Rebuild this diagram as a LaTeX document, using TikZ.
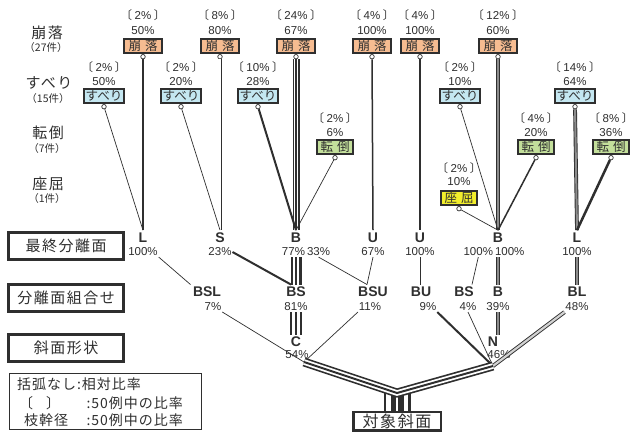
\documentclass[tikz,border=0pt]{standalone}
\usepackage{fontspec}
\setmainfont{Liberation Sans}
\newfontfamily\jp{Noto Sans CJK JP}
\newfontfamily\jpwide[LetterSpace=10]{Noto Sans CJK JP}
\newfontfamily\jpleg[LetterSpace=7]{Noto Sans CJK JP}
\usetikzlibrary{calc}
\definecolor{ink}{HTML}{2F2F2F}
\definecolor{fallfill}{HTML}{F6BC91}
\definecolor{slidefill}{HTML}{C4E7F1}
\definecolor{topplefill}{HTML}{C3DF9B}
\definecolor{bucklefill}{HTML}{F2EE2C}
\definecolor{core}{HTML}{8C8C8C}
\newcommand{\brk}[1]{{\jp 〔}\hspace{2.5pt}#1\hspace{2.5pt}{\jp 〕}}
\begin{document}
\begin{tikzpicture}[x=1pt,y=-1pt,
  every node/.style={text=ink},
  mode/.style={draw=ink, line width=1.9pt, minimum height=14.5pt, inner sep=0pt, font=\jp\fontsize{12.5}{12.5}\selectfont},
  fallbox/.style={mode, fill=fallfill, minimum width=38pt},
  slidebox/.style={mode, fill=slidefill, minimum width=40pt},
  topplebox/.style={mode, fill=topplefill, minimum width=36pt},
  bucklebox/.style={mode, fill=bucklefill, minimum width=36pt},
  knob/.style={circle, draw=ink, fill=white, line width=0.7pt, inner sep=0pt, minimum size=4.5pt},
  pct/.style={font=\fontsize{11.5}{11.5}\selectfont, inner sep=0pt, outer sep=1pt},
  face/.style={font=\bfseries\fontsize{14}{14}\selectfont, inner sep=0pt, outer sep=2.5pt},
  hdr/.style={draw=ink, line width=3pt, fill=white, minimum width=115pt, minimum height=27pt, inner sep=0pt, font=\jpwide\fontsize{15}{15}\selectfont},
  rootbox/.style={draw=ink, line width=2.5pt, fill=white, minimum width=87.5pt, minimum height=18.5pt, inner sep=0pt, font=\jpwide\fontsize{16}{16}\selectfont},
  lbl/.style={font=\jpwide\fontsize{15}{15}\selectfont, inner sep=0pt},
  cnt/.style={font=\jp\fontsize{10.5}{10.5}\selectfont, inner sep=0pt},
  legtxt/.style={font=\jpleg\fontsize{14}{14}\selectfont, inner sep=0pt},
  w07/.style={draw=ink, line width=0.7pt},
  w15/.style={draw=ink, line width=1.5pt},
  w20/.style={draw=ink, line width=2pt},
  w25/.style={draw=ink, line width=2.5pt},
  gdbl/.style={draw=ink, line width=0.9pt, double=core, double distance=#1},
  wdbl/.style={draw=ink, line width=0.9pt, double=white, double distance=#1},
  tri/.style={draw=ink, line width=#1, postaction={draw=white, line width=0.62*#1}, postaction={draw=ink, line width=0.22*#1}},
  stub/.style={draw=ink, line width=27pt, postaction={draw=white, line width=22pt}, postaction={draw=ink, line width=13pt}, postaction={draw=white, line width=2pt}},
]
\useasboundingbox (0,0) rectangle (632,436);
\fill[white] (0,0) rectangle (632,436);

% row titles on the left
\node[lbl] (m1) at (47,33) {崩落};
\node[cnt] (m1c) at (46,48) {（27件）};
\node[lbl] (m2) at (49,83) {すべり};
\node[cnt] (m2c) at (48,99) {（15件）};
\node[lbl] (m3) at (48,133) {転倒};
\node[cnt] (m3c) at (47,149) {（7件）};
\node[lbl] (m4) at (48,184) {座屈};
\node[cnt] (m4c) at (47,199) {（1件）};

% failure modes with their shares
\foreach \nn/\xx/\bb/\pc in {f1/143/2/50,f2/220/8/80,f3/296/24/67,f4/372/4/100,f5/420/4/100,f6/498/12/60}{
  \node[fallbox] (\nn) at (\xx,46) {崩\hspace{4pt}落};
  \node[knob] (\nn k) at ($(\nn.south)+(0,2.5)$) {};
  \node[pct] (\nn b) at (\xx,15) {\brk{\bb\%}};
  \node[pct] (\nn p) at (\xx,31) {\pc\%};
}
\foreach \nn/\xx/\bb/\pc in {s1/104/2/50,s2/181/2/20,s3/258/10/28,s4/460/2/10,s5/575/14/64}{
  \node[slidebox] (\nn) at (\xx,96) {すべり};
  \node[knob] (\nn k) at ($(\nn.south)+(0,2.5)$) {};
  \node[pct] (\nn b) at (\xx,67) {\brk{\bb\%}};
  \node[pct] (\nn p) at (\xx,82) {\pc\%};
}
\foreach \nn/\xx/\bb/\pc in {t1/335/2/6,t2/536/4/20,t3/611/8/36}{
  \node[topplebox] (\nn) at (\xx,147) {転\hspace{4pt}倒};
  \node[knob] (\nn k) at ($(\nn.south)+(0,2.5)$) {};
  \node[pct] (\nn b) at (\xx,118) {\brk{\bb\%}};
  \node[pct] (\nn p) at (\xx,133) {\pc\%};
}
\node[bucklebox] (b1) at (459,198) {座\hspace{4pt}屈};
\node[knob] (b1k) at ($(b1.south)+(0,2.5)$) {};
\node[pct] (b1b) at (459,168) {\brk{2\%}};
\node[pct] (b1p) at (459,182) {10\%};

% level headers
\node[hdr] (h1) at (66,246) {最終分離面};
\node[hdr] (h2) at (66,298) {分離面組合せ};
\node[hdr] (h3) at (66,348) {斜面形状};

% final separation planes
\node[face] (sL1) at (143,237.5) {L};
\node[face] (sS)  at (220,237.5) {S};
\node[face] (sB1) at (296,237.5) {B};
\node[face] (sU1) at (373,237.5) {U};
\node[face] (sU2) at (420,237.5) {U};
\node[face] (sB2) at (498,237.5) {B};
\node[face] (sL2) at (577,237.5) {L};
\node[pct] (pL1) at (143,252) {100\%};
\node[pct] (pS)  at (220,252) {23\%};
\node[pct, anchor=east] (pB1a) at (306,252) {77\%};
\node[pct, anchor=west] (pB1b) at (306,252) {33\%};
\node[pct] (pU1) at (373,252) {67\%};
\node[pct] (pU2) at (420,252) {100\%};
\node[pct, anchor=east] (pB2a) at (494,252) {100\%};
\node[pct, anchor=west] (pB2b) at (494,252) {100\%};
\node[pct] (pL2) at (577,252) {100\%};

% combinations of separation planes
\node[face] (cBSL) at (207,292) {BSL};
\node[face] (cBS1) at (296,292) {BS};
\node[face] (cBSU) at (373,292) {BSU};
\node[face] (cBU)  at (421,292) {BU};
\node[face] (cBS2) at (464,292) {BS};
\node[face] (cB)   at (498,292) {B};
\node[face] (cBL)  at (577,292) {BL};
\node[pct] (qBSL) at (213,307) {7\%};
\node[pct] (qBS1) at (296,307) {81\%};
\node[pct] (qBSU) at (370,307) {11\%};
\node[pct] (qBU)  at (428,307) {9\%};
\node[pct] (qBS2) at (468,307) {4\%};
\node[pct] (qB)   at (498,307) {39\%};
\node[pct] (qBL)  at (577,307) {48\%};

% slope shapes
\node[face] (sC) at (296,342) {C};
\node[face] (sN) at (493,342) {N};
\node[pct] (qC) at (297,355) {54\%};
\node[pct] (qN) at (499,355) {46\%};

\node[rootbox] (root) at (397,421) {対象斜面};
\coordinate (cj) at (304,362);
\coordinate (nj) at (493,366);
\coordinate (apex) at (397,393);

% branches: modes -> final separation planes
\draw[w15] (f1k) -- (sL1.north);
\draw[w07] (s1k) -- (sL1.north);
\draw[wdbl=1.2pt] (f2k) -- (sS.north);
\draw[w07] (s2k) -- (sS.north);
\draw[tri=7pt] (f3k) -- (sB1.north);
\draw[w20] (s3k) -- (sB1.north);
\draw[w07] (t1k) -- (sB1.north);
\draw[w15] (f4k) -- (sU1.north);
\draw[w15] (f5k) -- (sU2.north);
\draw[gdbl=2.2pt] (f6k) -- (sB2.north);
\draw[w07] (s4k) -- (sB2.north);
\draw[w07] (b1k) -- (sB2.north);
\draw[w15] (t2k) -- (sB2.north);
\draw[gdbl=2pt] (s5k) -- (sL2.north);
\draw[w25] (t3k) -- (sL2.north);

% branches: planes -> combinations
\draw[w07] (pL1.south east) -- (cBSL.north west);
\draw[w20] (pS.east) -- ($(cBS1.north)+(-5,0)$);
\draw[tri=11pt] (pB1a.south -| sB1) -- (cBS1.north);
\draw[w07] (pB1b.south) -- ($(cBSU.north)+(-6,0)$);
\draw[w07] (pU1.south) -- ($(cBSU.north)+(-6,0)$);
\draw[w07] (pU2.south) -- (pU2.south |- cBU.north);
\draw[w07] (pB2a.south) -- ($(cBS2.north)+(8,0)$);
\draw[gdbl=2pt] (pB2b.south -| sB2) -- (cB.north);
\draw[gdbl=2pt] (pL2.south) -- (cBL.north);

% branches: combinations -> slope shapes
\draw[w07] (qBSL.south east) -- (cj);
\draw[tri=12pt] (qBS1.south) -- (sC.north);
\draw[w07] (qBSU.south west) -- (cj);
\draw[w20] (qBU.south east) -- (nj);
\draw[w07] (qBS2.south) -- (nj);
\draw[gdbl=1.8pt] (qB.south) -- (qB.south |- sN.north);
\draw[gdbl=2.2pt, double=gray!35] (qBL.south west) -- (nj);

% trunk
\draw[stub] (apex) -- (root.north);
\draw[tri=9pt] (cj) -- (apex) -- (nj);

% legend
\node[draw=ink, line width=1.4pt, minimum width=192pt, minimum height=56pt, inner sep=0pt] (leg) at (105.5,401.5) {};
\node[legtxt, anchor=west] (l1) at (17,384) {括弧なし:相対比率};
\node[legtxt, anchor=west] (l2a) at (19,403) {〔\hspace{13pt}〕};
\node[legtxt, anchor=east] (l2b) at (183,403) {:50例中の比率};
\node[legtxt, anchor=west] (l3a) at (24,420) {枝幹径};
\node[legtxt, anchor=east] (l3b) at (183,420) {:50例中の比率};
\end{tikzpicture}
\end{document}
